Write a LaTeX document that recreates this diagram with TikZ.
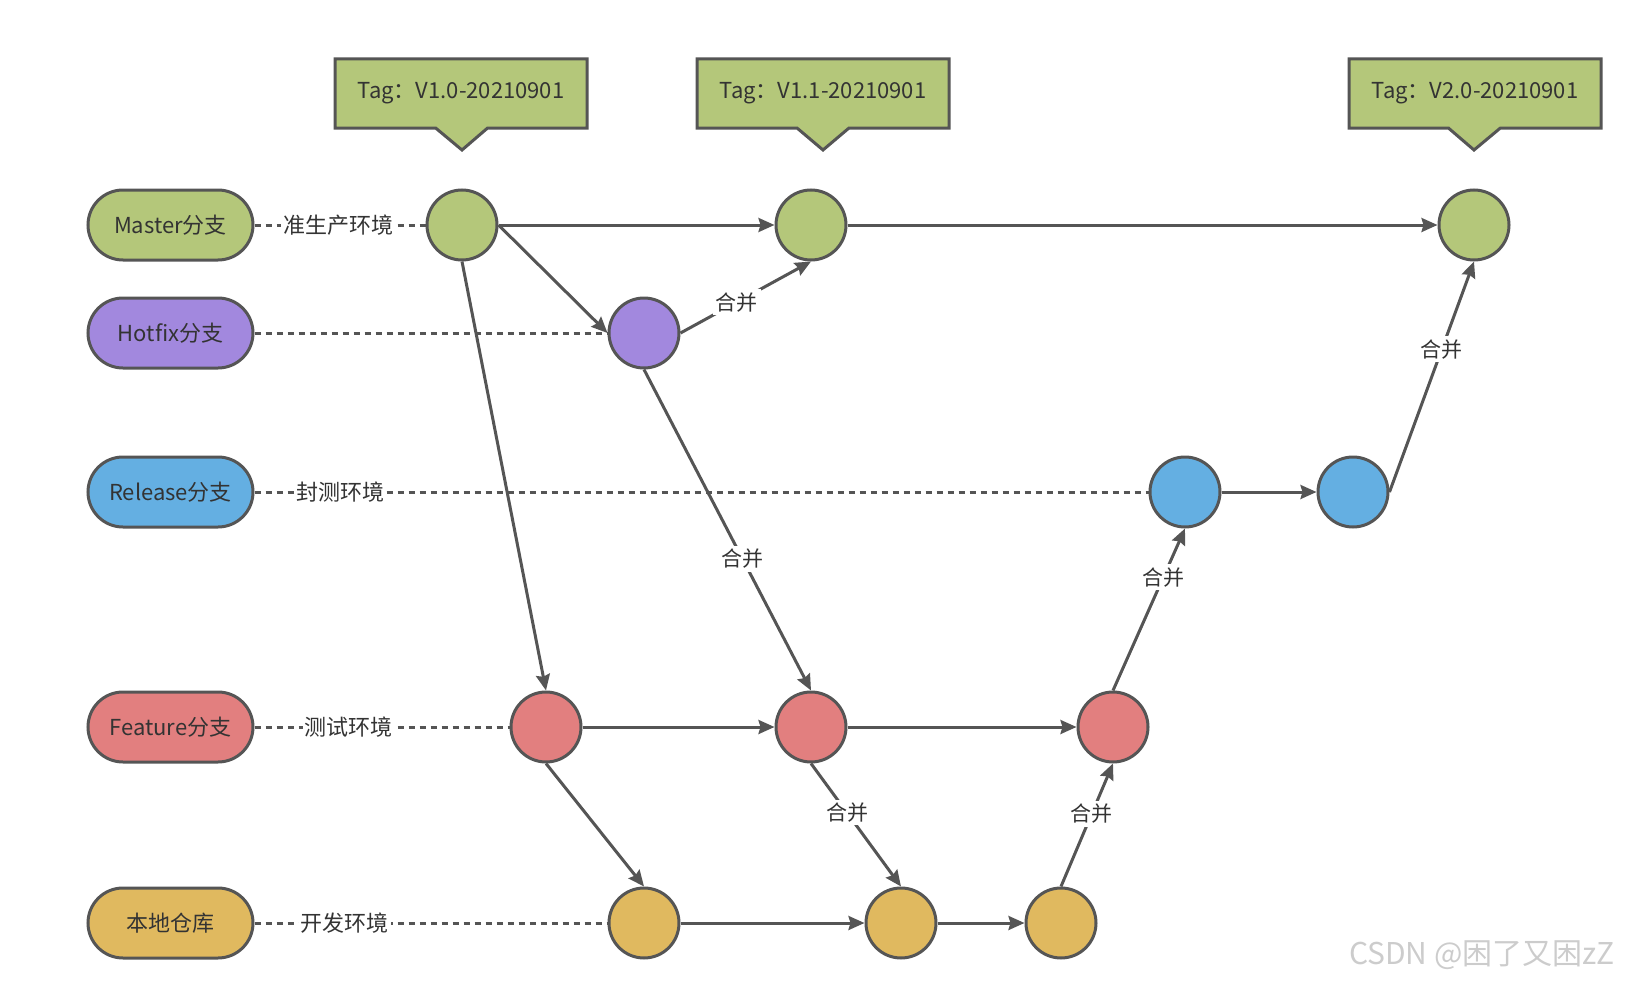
\documentclass[tikz,border=0pt]{standalone}
\usepackage{fontspec}
\setmainfont{Noto Sans CJK SC}
\usetikzlibrary{shapes.callouts,arrows.meta}

\definecolor{mastergreen}{HTML}{B4C77A}
\definecolor{hotfixpurple}{HTML}{A288DE}
\definecolor{releaseblue}{HTML}{64AFE2}
\definecolor{featurered}{HTML}{E27F7F}
\definecolor{localyellow}{HTML}{E0B95F}
\definecolor{edge}{HTML}{555555}
\definecolor{txt}{HTML}{333333}

\begin{document}
\begin{tikzpicture}[x=1pt,y=-1pt,
  branch/.style={draw=edge,line width=3pt,rounded corners=35pt,minimum width=165pt,minimum height=70pt,text=txt,font=\fontsize{22}{26}\selectfont},
  commit/.style={circle,draw=edge,line width=3pt,minimum size=70pt,inner sep=0pt},
  tag/.style={rectangle callout,draw=edge,line width=3pt,fill=mastergreen,minimum width=252pt,minimum height=69pt,callout pointer width=52pt,text=txt,font=\fontsize{22}{26}\selectfont},
  flow/.style={draw=edge,line width=3pt,-{Stealth[length=16pt,width=14pt,inset=2pt]}},
  track/.style={draw=edge,line width=3pt,dash pattern=on 6pt off 5pt},
  env/.style={fill=white,inner sep=2pt,text=txt,font=\fontsize{22}{26}\selectfont},
  merge/.style={fill=white,inner sep=3pt,text=txt,font=\fontsize{21}{25}\selectfont}]
  \useasboundingbox (0,0) rectangle (1626,982);

  % branches
  \node[branch,fill=mastergreen] (masterbr) at (170.5,225) {Master分支};
  \node[branch,fill=hotfixpurple] (hotfixbr) at (170.5,333) {Hotfix分支};
  \node[branch,fill=releaseblue] (releasebr) at (170.5,492) {Release分支};
  \node[branch,fill=featurered] (featurebr) at (170.5,727) {Feature分支};
  \node[branch,fill=localyellow] (localbr) at (170.5,923) {本地仓库};

  % commits
  \node[commit,fill=mastergreen] (master1) at (462,225) {};
  \node[commit,fill=mastergreen] (master2) at (811,225) {};
  \node[commit,fill=mastergreen] (master3) at (1474,225) {};
  \node[commit,fill=hotfixpurple] (hotfix1) at (644,333) {};
  \node[commit,fill=releaseblue] (release1) at (1185,492) {};
  \node[commit,fill=releaseblue] (release2) at (1353,492) {};
  \node[commit,fill=featurered] (feature1) at (546,727) {};
  \node[commit,fill=featurered] (feature2) at (811,727) {};
  \node[commit,fill=featurered] (feature3) at (1113,727) {};
  \node[commit,fill=localyellow] (local1) at (644,923) {};
  \node[commit,fill=localyellow] (local2) at (901,923) {};
  \node[commit,fill=localyellow] (local3) at (1061,923) {};

  % tags
  \node[tag,callout absolute pointer={(462,150)}] (tag1) at (461,93.5) {Tag：V1.0-20210901};
  \node[tag,callout absolute pointer={(823,150)}] (tag2) at (823,93.5) {Tag：V1.1-20210901};
  \node[tag,callout absolute pointer={(1474,150)}] (tag3) at (1475,93.5) {Tag：V2.0-20210901};

  % environments
  \draw[track] (masterbr.east) -- node[env,pos=0.49] {准生产环境} (master1.west);
  \draw[track] (hotfixbr.east) -- (hotfix1.west);
  \draw[track] (releasebr.east) -- node[env,pos=0.096] {封测环境} (release1.west);
  \draw[track] (featurebr.east) -- node[env,pos=0.37] {测试环境} (feature1.west);
  \draw[track] (localbr.east) -- node[env,pos=0.256] {开发环境} (local1.west);

  % history
  \draw[flow] (master1.east) -- (master2.west);
  \draw[flow] (master2.east) -- (master3.west);
  \draw[flow] (master1.east) -- (hotfix1.west);
  \draw[flow] (master1.south) -- (feature1.north);
  \draw[flow] (hotfix1.east) -- node[merge,pos=0.43] {合并} (master2.south);
  \draw[flow] (hotfix1.south) -- node[merge,pos=0.59] {合并} (feature2.north);
  \draw[flow] (feature1.east) -- (feature2.west);
  \draw[flow] (feature2.east) -- (feature3.west);
  \draw[flow] (feature1.south) -- (local1.north);
  \draw[flow] (feature2.south) -- node[merge,pos=0.4] {合并} (local2.north);
  \draw[flow] (local1.east) -- (local2.west);
  \draw[flow] (local2.east) -- (local3.west);
  \draw[flow] (local3.north) -- node[merge,pos=0.59] {合并} (feature3.south);
  \draw[flow] (feature3.north) -- node[merge,pos=0.7] {合并} (release1.south);
  \draw[flow] (release1.east) -- (release2.west);
  \draw[flow] (release2.east) -- node[merge,pos=0.62] {合并} (master3.south);

  \node[text=gray!40,font=\fontsize{30}{34}\selectfont] (mark) at (1482,955) {CSDN @困了又困zZ};
\end{tikzpicture}
\end{document}
